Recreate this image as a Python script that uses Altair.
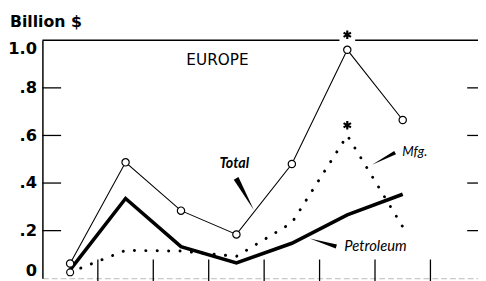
import altair as alt
import numpy as np
import pandas as pd

# ---- data ----
years = ["1957", "1958", "1959", "1960", "1961", "1962", "1963"]
total = [0.062, 0.487, 0.284, 0.184, 0.48, 0.96, 0.665]
petroleum = [0.035, 0.335, 0.133, 0.064, 0.147, 0.266, 0.353]
mfg = [0.025, 0.117, 0.114, 0.092, 0.233, 0.60, 0.216]
star_year = "1962"
star_values = [1.023, 0.643]
ytick_values = [0.2, 0.4, 0.6, 0.8]
ylabel_values = [0, 0.2, 0.4, 0.6, 0.8, 1.0]

pos = np.arange(len(years)) + 0.5
df = pd.DataFrame({"year": years, "pos": pos, "Total": total,
                   "Petroleum": petroleum, "Mfg": mfg})
stars = pd.DataFrame({"pos": [pos[years.index(star_year)]] * len(star_values),
                      "v": star_values})
bounds = pd.DataFrame({"pos": np.arange(1, len(years) + 1)})
yt = pd.DataFrame({"v": ytick_values})

W, H = 443, 242
xs = alt.Scale(domain=[0, 8], range=[0, 451], nice=False, zero=False)
ys = alt.Scale(domain=[0, 1], nice=False)

label_expr = ("datum.value == 0 ? '0' : datum.value == 1 ? '1.0' : "
              "replace(format(datum.value, '.1f'), '0.', '.')")

YAX = alt.Axis(values=ylabel_values, labelExpr=label_expr,
               ticks=False, tickSize=0, labelPadding=6, labelFlush=True,
               domainColor="black", domainWidth=1.5, grid=False, title=None,
               labelFont="DejaVu Sans", labelFontWeight="bold",
               labelFontSize=16.5, labelColor="black")
XAX = alt.Axis(labels=False, ticks=False, grid=False, title=None,
               domainColor="#bbbbbb", domainDash=[6, 3], domainWidth=1)


def X(field="pos"):
    return alt.X(f"{field}:Q", scale=xs, axis=XAX)


def Y(field):
    return alt.Y(f"{field}:Q", scale=ys, axis=YAX)


top_rule = alt.Chart(pd.DataFrame({"v": [1.0]})).mark_rule(
    color="black", strokeWidth=1.5
).encode(y=Y("v"), x=alt.value(0), x2=alt.value(451))

mask = alt.Chart(stars.assign(v=1.0).head(1)).mark_point(
    shape="M-1,-0.25L1,-0.25L1,0.25L-1,0.25Z", filled=True, fill="white",
    strokeOpacity=0, opacity=1, size=256
).encode(x=X(), y=Y("v"))

left_ticks = alt.Chart(yt).mark_rule(color="black", strokeWidth=1.3).encode(
    y=Y("v"), x=alt.value(0), x2=alt.value(19))
right_ticks = alt.Chart(yt).mark_rule(color="black", strokeWidth=1.3).encode(
    y=Y("v"), x=alt.value(432), x2=alt.value(451))
bottom_ticks = alt.Chart(bounds).mark_rule(color="black", strokeWidth=1.3).encode(
    x=X(), y=alt.value(223), y2=alt.value(245))

mfg_line = alt.Chart(df).mark_line(
    color="black", strokeWidth=3, strokeDash=[0.1, 11.5], strokeCap="round"
).encode(x=X(), y=Y("Mfg"))

petro_line = alt.Chart(df).mark_line(color="black", strokeWidth=3.6).encode(
    x=X(), y=Y("Petroleum"))

total_line = alt.Chart(df).mark_line(color="black", strokeWidth=1.1).encode(
    x=X(), y=Y("Total"))
total_pts = alt.Chart(df).mark_point(
    shape="circle", filled=True, fill="white", stroke="black",
    strokeWidth=1.2, size=55, opacity=1
).encode(x=X(), y=Y("Total"))
mfg_first = alt.Chart(df.head(1)).mark_point(
    shape="circle", filled=True, fill="white", stroke="black",
    strokeWidth=1.2, size=50, opacity=1
).encode(x=X(), y=Y("Mfg"))

star_marks = alt.Chart(stars).mark_point(
    shape="M0,-1L0,1M-0.87,-0.5L0.87,0.5M-0.87,0.5L0.87,-0.5",
    filled=False, stroke="black", strokeWidth=2.2, size=75, opacity=1
).encode(x=X(), y=Y("v"))


def txt(s, x, y, **kw):
    return alt.Chart(pd.DataFrame({"t": [s]})).mark_text(
        color="black", baseline="alphabetic", **kw
    ).encode(text="t:N", x=alt.value(x), y=alt.value(y))


def wedge(x, y, length, angle):
    return alt.Chart(pd.DataFrame({"a": [0]})).mark_point(
        shape="M1,0L-1,-0.15L-1,0.15Z", filled=True, fill="black",
        strokeOpacity=0, opacity=1, size=length * length, angle=angle
    ).encode(x=alt.value(x), y=alt.value(y))


labels = [
    txt("Billion $", -33, -13.5, align="left", font="DejaVu Sans",
        fontWeight="bold", fontSize=16),
    txt("EUROPE", 178, 25.5, align="center", font="DejaVu Sans", fontSize=15.5),
    txt("Total", 180, 129.8, align="left", font="Lato", fontStyle="italic",
        fontWeight="bold", fontSize=14.5),
    txt("Mfg.", 366, 117.5, align="left", font="Lato", fontStyle="italic",
        fontSize=13.5),
    txt("Petroleum", 307, 214.5, align="left", font="Lato", fontStyle="italic",
        fontSize=15),
    wedge(206, 156.5, 36.7, 60.6),
    wedge(347, 120.4, 26.4, 152.3),
    wedge(285.4, 205.7, 28.2, 196.5),
]

chart = alt.layer(
    top_rule, mask, left_ticks, right_ticks, bottom_ticks,
    mfg_line, petro_line, total_line, total_pts, mfg_first, star_marks,
    *labels
).properties(
    width=W, height=H,
    autosize=alt.AutoSizeParams(type="none"),
    padding={"left": 35, "top": 30.5, "right": 0, "bottom": 1},
    background="white",
).configure_view(stroke=None)

chart.save("out.html", embed_options={"renderer": "svg", "actions": False})
